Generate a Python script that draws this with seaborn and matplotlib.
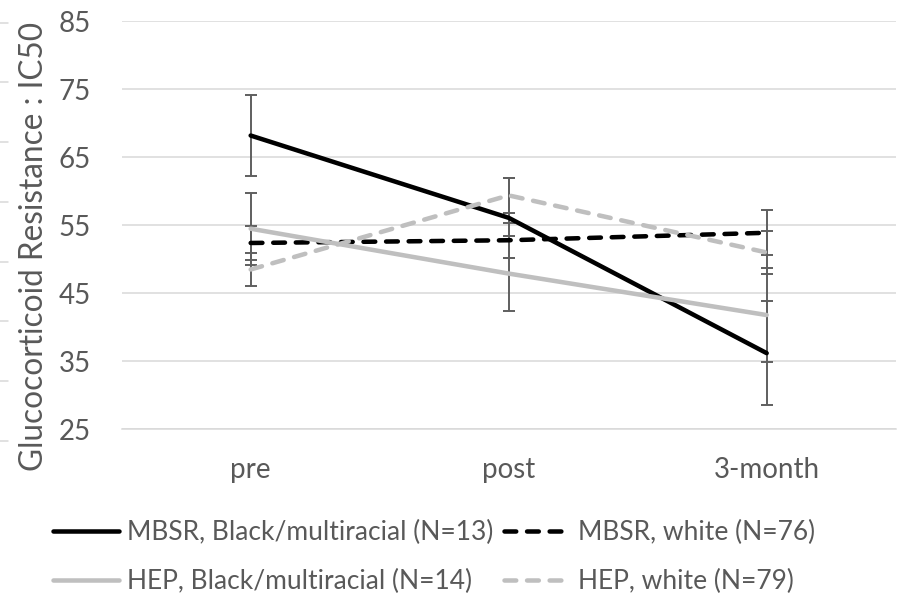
import matplotlib
matplotlib.use("Agg")
import matplotlib.pyplot as plt
from matplotlib.lines import Line2D
import numpy as np
import pandas as pd
import seaborn as sns

# ---------------- data ----------------
categories = ["pre", "post", "3-month"]

mbsr_black = [68.2, 56.1, 36.2]
mbsr_black_err = [5.9, 5.9, 7.6]

mbsr_white = [52.4, 52.8, 53.9]
mbsr_white_err = [2.5, 2.6, 3.3]

hep_black = [54.5, 47.9, 41.8]
hep_black_err = [5.3, 5.5, 6.9]

hep_white = [48.5, 59.4, 51.0]
hep_white_err = [2.4, 2.6, 3.1]

series_labels = [
    "MBSR, Black/multiracial (N=13)",
    "MBSR, white (N=76)",
    "HEP, Black/multiracial (N=14)",
    "HEP, white (N=79)",
]
y_ticks = [25, 35, 45, 55, 65, 75, 85]
y_label = "Glucocorticoid Resistance : IC50"

# ---------------- styling ----------------
sns.set_style("white")
plt.rcParams["font.family"] = ["Lato", "DejaVu Sans"]

TEXT = "#595959"
GRID = "#D9D9D9"
colors = ["#000000", "#000000", "#BFBFBF", "#BFBFBF"]
dashed = [False, True, False, True]
LW = 3.25

rows = []
for lab, vals, errs in zip(series_labels,
                           [mbsr_black, mbsr_white, hep_black, hep_white],
                           [mbsr_black_err, mbsr_white_err, hep_black_err, hep_white_err]):
    for c, v, e in zip(categories, vals, errs):
        rows.append({"group": lab, "time": c, "value": v, "err": e})
df = pd.DataFrame(rows)

fig = plt.figure(figsize=(8.98, 5.95), dpi=100)
ax = fig.add_axes([0.1355, 0.2785, 0.8619, 0.6857])

# error bars (beneath the lines)
xpos = np.arange(len(categories))
for lab in series_labels:
    sub = df[df["group"] == lab]
    ax.errorbar(xpos, sub["value"].values, yerr=sub["err"].values, fmt="none",
                ecolor="#5F5F5F", elinewidth=1.4, capsize=4.5, capthick=1.4,
                zorder=1.5)

handles = {}
for lab, col, dsh in zip(series_labels, colors, dashed):
    sub = df[df["group"] == lab]
    sns.lineplot(data=sub, x="time", y="value", color=col, lw=LW,
                 errorbar=None, sort=False, ax=ax, label=lab, zorder=2)
    ln = ax.lines[-1]
    ln.set_solid_capstyle("round")
    ln.set_solid_joinstyle("round")
    if dsh:
        ln.set_dashes((2.6, 2.4))
        ln.set_dash_capstyle("round")
    handles[lab] = ln

if ax.get_legend() is not None:
    ax.get_legend().remove()

ax.set_xlim(-0.5, len(categories) - 0.5)
ax.set_ylim(y_ticks[0], y_ticks[-1])
ax.set_yticks(y_ticks)
ax.set_xticks(xpos)
ax.set_xticklabels(categories)
ax.set_xlabel("")

ax.yaxis.grid(True, color=GRID, lw=1.1)
ax.xaxis.grid(False)
ax.set_axisbelow(True)
for s in ["top", "right", "left"]:
    ax.spines[s].set_visible(False)
ax.spines["bottom"].set_color(GRID)
ax.spines["bottom"].set_linewidth(1.1)

ax.tick_params(axis="both", length=0, labelsize=20, labelcolor=TEXT)
ax.tick_params(axis="y", pad=22)
ax.tick_params(axis="x", pad=20)

ax.set_ylabel(y_label, fontsize=22.7, color=TEXT)
ax.yaxis.label.set_va("center")
ax.yaxis.set_label_coords(-0.1135, 0.447)

# legend: row 1 MBSR, row 2 HEP
order = [series_labels[0], series_labels[2], series_labels[1], series_labels[3]]
leg_handles = []
for lab in order:
    h = handles[lab]
    proxy = Line2D([], [], color=h.get_color(), lw=LW,
                   solid_capstyle="round", dash_capstyle="round")
    if h.get_linestyle() not in ("-", "solid"):
        proxy.set_dashes((2.6, 2.4))
    leg_handles.append(proxy)
fig.legend(leg_handles, order, ncol=2, loc="center left",
           bbox_to_anchor=(53 / 898, 1 - 557 / 595), frameon=False,
           fontsize=19, labelcolor=TEXT, handlelength=2.5,
           handletextpad=0.3, columnspacing=0.42, labelspacing=0.9,
           borderpad=0, borderaxespad=0)

# faint stubs at the far left edge of the picture
for yp in [22.7, 81.7, 141.7, 201.7, 261.7, 320.7, 380.7, 440.7]:
    fig.add_artist(Line2D([0, 8 / 898], [1 - yp / 595, 1 - yp / 595],
                          transform=fig.transFigure, color=GRID, lw=1.1))

fig.savefig("out.png", dpi=100)
